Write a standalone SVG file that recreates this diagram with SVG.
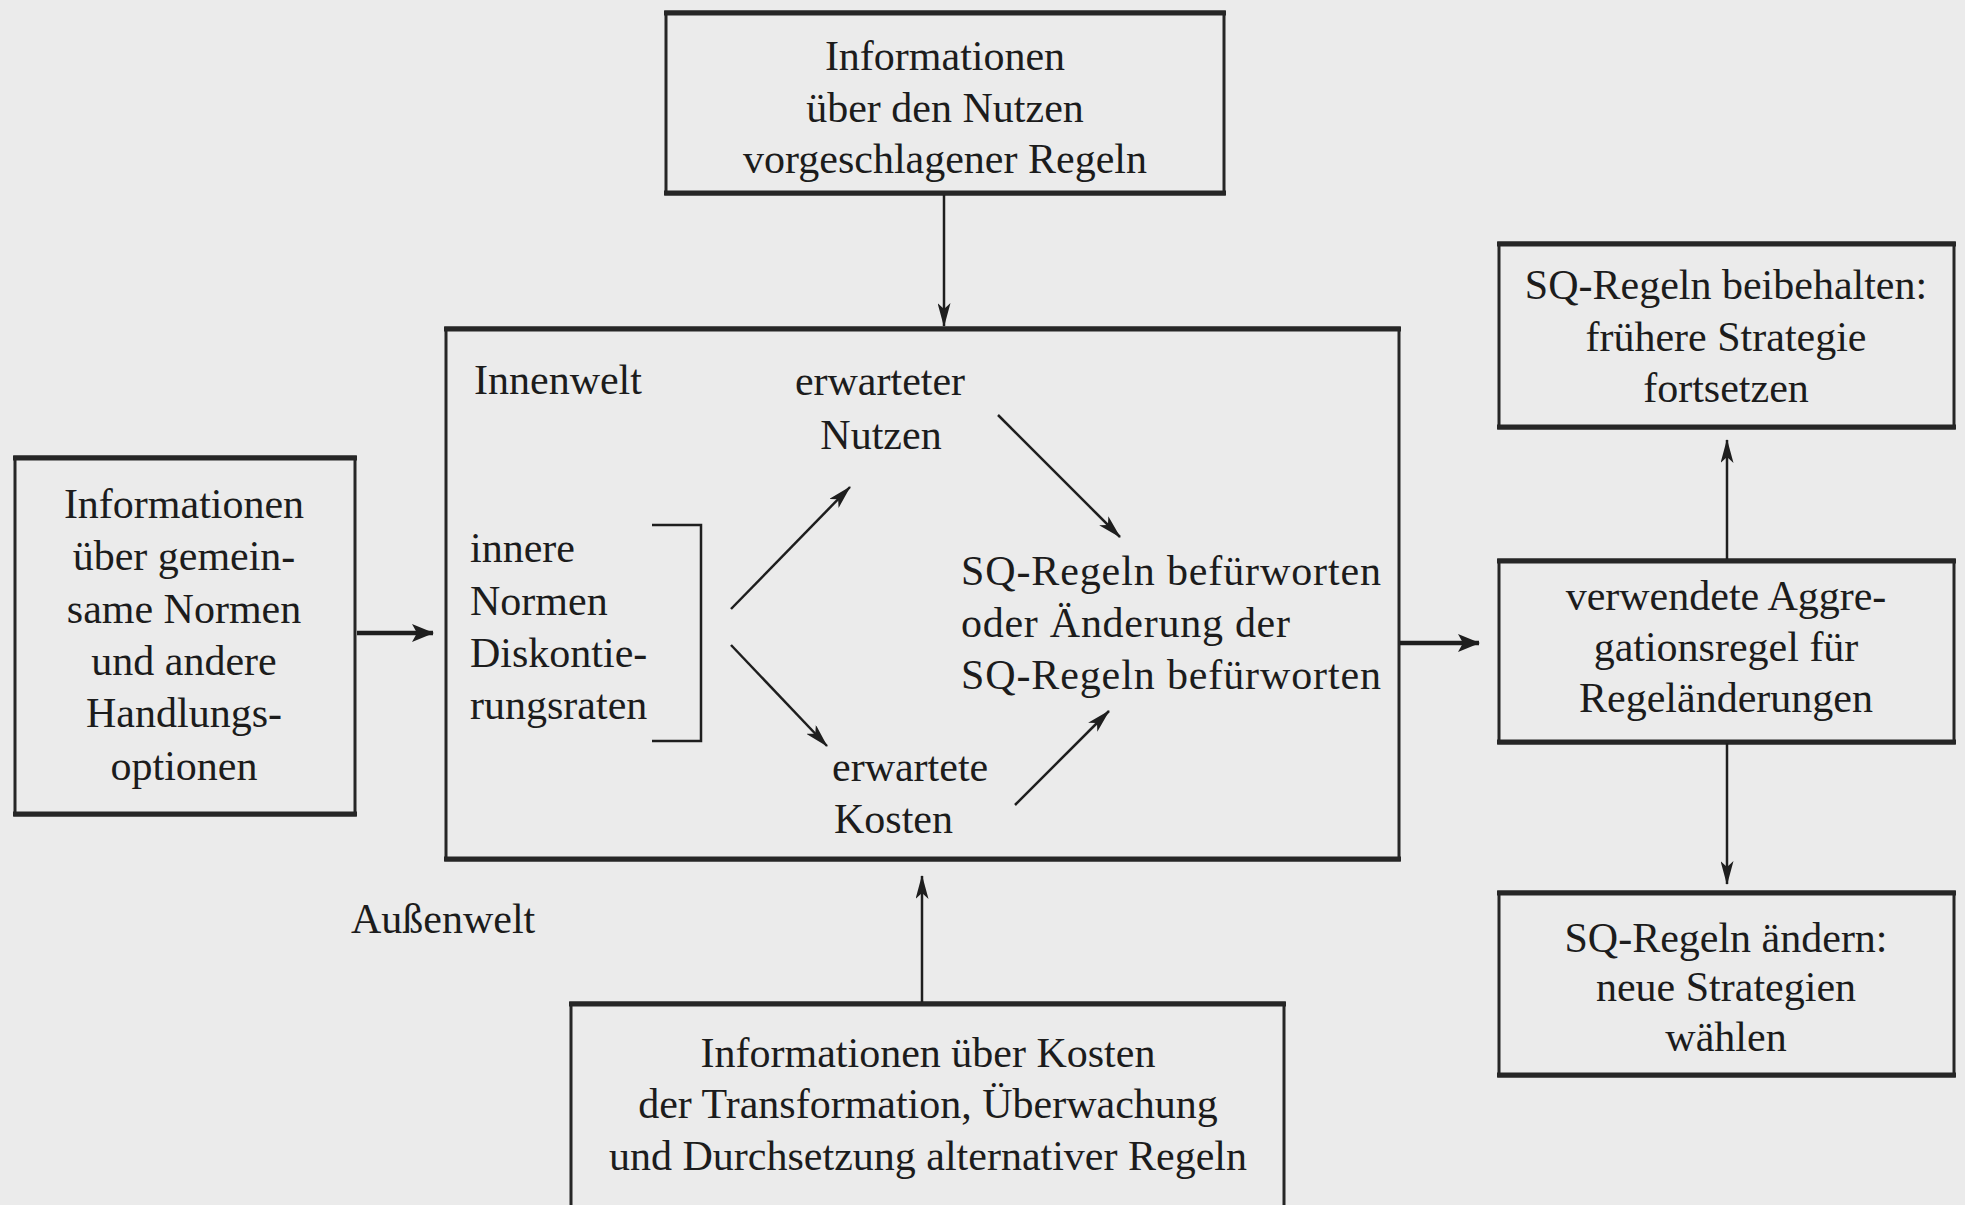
<svg xmlns="http://www.w3.org/2000/svg" width="1965" height="1205" viewBox="0 0 1965 1205">
<style>
.bg{fill:#ebebeb}
.box{fill:none;stroke:#262626;stroke-width:3}
.edge{stroke:#262626;stroke-width:5}
text{font-family:"Liberation Serif","Times New Roman",serif;font-size:42px;fill:#1c1c1c}
.c{text-anchor:middle}
.ln{stroke:#1e1e1e;stroke-width:2.5;fill:none}
.thick{stroke:#1e1e1e;stroke-width:4.5;fill:none}
</style>
<defs>
<marker id="ah" viewBox="0 0 24 13" refX="23" refY="6.5" markerWidth="24" markerHeight="13" markerUnits="userSpaceOnUse" orient="auto">
<path d="M0,0 L24,6.5 L0,13 L6,6.5 z" fill="#1e1e1e"/>
</marker>
<marker id="ahb" viewBox="0 0 22 18" refX="21" refY="9" markerWidth="22" markerHeight="18" markerUnits="userSpaceOnUse" orient="auto">
<path d="M0,0 L22,9 L0,18 L5,9 z" fill="#1e1e1e"/>
</marker>
</defs>
<rect class="bg" x="0" y="0" width="1965" height="1205"/>

<g id="top-box">
<rect class="box" x="666" y="12" width="558" height="182"/>
<line class="edge" x1="664" y1="13" x2="1226" y2="13"/>
<line class="edge" x1="664" y1="193" x2="1226" y2="193"/>
<text class="c" x="945" y="70">Informationen</text>
<text class="c" x="945" y="122">über den Nutzen</text>
<text class="c" x="945" y="173">vorgeschlagener Regeln</text>
</g>

<g id="main-box">
<rect class="box" x="446" y="328" width="953" height="532"/>
<line class="edge" x1="444" y1="329" x2="1401" y2="329"/>
<line class="edge" x1="444" y1="859" x2="1401" y2="859"/>
<text x="474" y="394">Innenwelt</text>
</g>

<g id="inner-norms">
<text x="470" y="562">innere</text>
<text x="470" y="615">Normen</text>
<text x="470" y="667">Diskontie-</text>
<text x="470" y="719">rungsraten</text>
<path class="ln" d="M652,525 H701 V741 H652" stroke-width="3"/>
</g>

<g id="expected-benefit">
<text class="c" x="880" y="395">erwarteter</text>
<text class="c" x="881" y="449">Nutzen</text>
</g>

<g id="expected-costs">
<text x="832" y="781">erwartete</text>
<text x="834" y="833">Kosten</text>
</g>

<g id="sq-decision">
<text x="961" y="585" textLength="420">SQ-Regeln befürworten</text>
<text x="961" y="637" textLength="329">oder Änderung der</text>
<text x="961" y="689" textLength="420">SQ-Regeln befürworten</text>
</g>

<g id="outer-world">
<text x="351" y="933">Außenwelt</text>
</g>

<g id="left-box">
<rect class="box" x="15" y="457" width="340" height="358"/>
<line class="edge" x1="13" y1="458" x2="357" y2="458"/>
<line class="edge" x1="13" y1="814" x2="357" y2="814"/>
<text class="c" x="184" y="518">Informationen</text>
<text class="c" x="184" y="570">über gemein-</text>
<text class="c" x="184" y="623">same Normen</text>
<text class="c" x="184" y="675">und andere</text>
<text class="c" x="184" y="727">Handlungs-</text>
<text class="c" x="184" y="780">optionen</text>
</g>

<g id="bottom-box">
<rect class="box" x="571" y="1003" width="713" height="215"/>
<line class="edge" x1="569" y1="1004" x2="1286" y2="1004"/>
<text class="c" x="928" y="1067">Informationen über Kosten</text>
<text class="c" x="928" y="1118">der Transformation, Überwachung</text>
<text class="c" x="928" y="1170">und Durchsetzung alternativer Regeln</text>
</g>

<g id="keep-box">
<rect class="box" x="1499" y="243" width="455" height="185"/>
<line class="edge" x1="1497" y1="244" x2="1956" y2="244"/>
<line class="edge" x1="1497" y1="427" x2="1956" y2="427"/>
<text class="c" x="1726" y="299">SQ-Regeln beibehalten:</text>
<text class="c" x="1726" y="351">frühere Strategie</text>
<text class="c" x="1726" y="402">fortsetzen</text>
</g>

<g id="aggregation-box">
<rect class="box" x="1499" y="560" width="455" height="183"/>
<line class="edge" x1="1497" y1="561" x2="1956" y2="561"/>
<line class="edge" x1="1497" y1="742" x2="1956" y2="742"/>
<text class="c" x="1726" y="610">verwendete Aggre-</text>
<text class="c" x="1726" y="661">gationsregel für</text>
<text class="c" x="1726" y="712">Regeländerungen</text>
</g>

<g id="change-box">
<rect class="box" x="1499" y="892" width="455" height="184"/>
<line class="edge" x1="1497" y1="893" x2="1956" y2="893"/>
<line class="edge" x1="1497" y1="1075" x2="1956" y2="1075"/>
<text class="c" x="1726" y="952">SQ-Regeln ändern:</text>
<text class="c" x="1726" y="1001">neue Strategien</text>
<text class="c" x="1726" y="1051">wählen</text>
</g>

<g id="connectors">
<line class="ln" x1="944" y1="195" x2="944" y2="326" marker-end="url(#ah)"/>
<line class="thick" x1="357" y1="633" x2="433" y2="633" marker-end="url(#ahb)"/>
<line class="thick" x1="1400" y1="643" x2="1479" y2="643" marker-end="url(#ahb)"/>
<line class="ln" x1="1727" y1="559" x2="1727" y2="440" marker-end="url(#ah)"/>
<line class="ln" x1="1727" y1="743" x2="1727" y2="884" marker-end="url(#ah)"/>
<line class="ln" x1="922" y1="1002" x2="922" y2="876" marker-end="url(#ah)"/>
<line class="ln" x1="731" y1="609" x2="850" y2="487" marker-end="url(#ah)"/>
<line class="ln" x1="731" y1="645" x2="827" y2="746" marker-end="url(#ah)"/>
<line class="ln" x1="998" y1="415" x2="1120" y2="537" marker-end="url(#ah)"/>
<line class="ln" x1="1015" y1="805" x2="1109" y2="711" marker-end="url(#ah)"/>
</g>
</svg>
